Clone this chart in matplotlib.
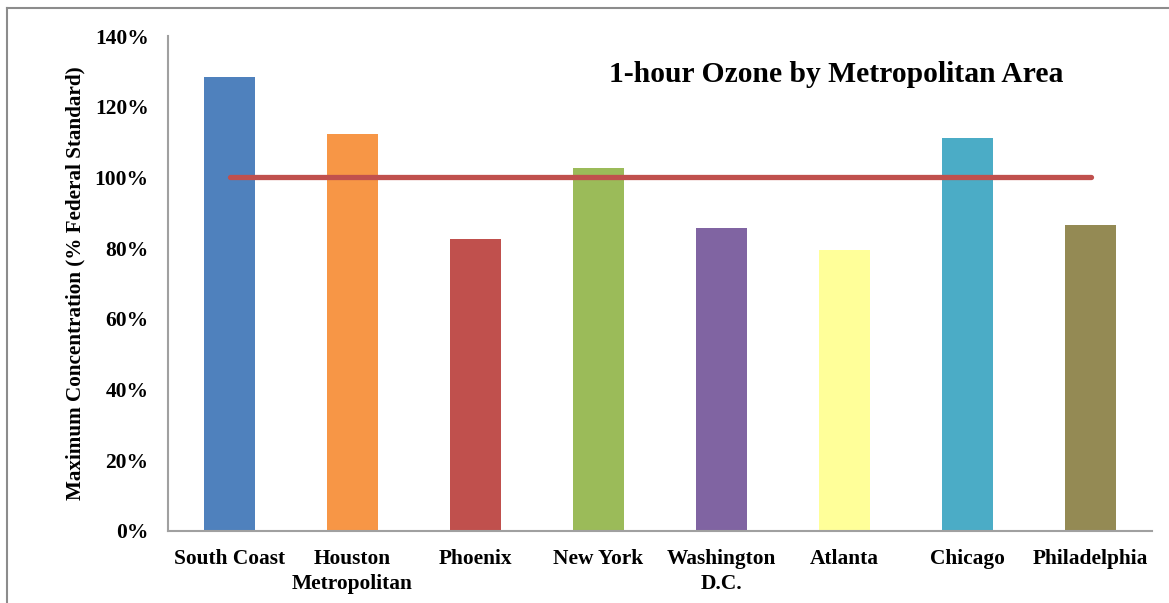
import matplotlib
matplotlib.use("Agg")
import matplotlib.pyplot as plt
from matplotlib.lines import Line2D
from matplotlib.ticker import FuncFormatter

categories = ["South Coast", "Houston\nMetropolitan", "Phoenix", "New York",
              "Washington\nD.C.", "Atlanta", "Chicago", "Philadelphia"]
values = [128.3, 112.2, 82.5, 102.6, 85.6, 79.5, 111.2, 86.5]
standard = [100] * len(categories)
colors = ["#4F81BD", "#F79646", "#C0504D", "#9BBB59", "#8064A2",
          "#FFFF99", "#4BACC6", "#948A54"]
yticks = [0, 20, 40, 60, 80, 100, 120, 140]

plt.rcParams["font.family"] = ["Liberation Serif", "DejaVu Serif"]
plt.rcParams["font.weight"] = "bold"

W, H = 1169, 603
fig = plt.figure(figsize=(W / 100, H / 100), dpi=100)
ax = fig.add_axes([168 / W, 1 - 531 / H, (1152 - 168) / W, (531 - 36) / H])

x = list(range(len(categories)))
ax.bar(x, values, width=0.41, color=colors, zorder=2)
ax.plot(x, standard, color="#C0504D", linewidth=3.8, solid_capstyle="round", zorder=3)

ax.set_xlim(-0.5, len(categories) - 0.5)
ax.set_ylim(0, 140)
ax.set_yticks(yticks)
ax.yaxis.set_major_formatter(FuncFormatter(lambda v, p: f"{v:.0f}%"))
ax.set_xticks(x)
ax.set_xticklabels(categories, fontsize=15.4, fontweight="bold", linespacing=1.3)
for lbl in ax.get_yticklabels():
    lbl.set_fontsize(15.5)
    lbl.set_fontweight("bold")
ax.tick_params(axis="both", length=0)
ax.tick_params(axis="y", pad=14)
ax.tick_params(axis="x", pad=13)

for s in ["top", "right"]:
    ax.spines[s].set_visible(False)
for s in ["left", "bottom"]:
    ax.spines[s].set_color("#A0A0A0")
    ax.spines[s].set_linewidth(1.5)

ax.set_ylabel("Maximum Concentration (% Federal Standard)", fontsize=15.2,
              fontweight="bold")
ax.yaxis.set_label_coords(-(168 - 85) / (1152 - 168), 0.5)

fig.text(836 / W, 1 - 75 / H, "1-hour Ozone by Metropolitan Area", fontsize=21.3,
         fontweight="bold", ha="center", va="center")

# chart-area border (left and top visible)
fig.add_artist(Line2D([6.5 / W, 6.5 / W], [0, 1 - 7.5 / H], transform=fig.transFigure,
                      color="#8C8C8C", linewidth=1.5))
fig.add_artist(Line2D([6.5 / W, 1], [1 - 7.5 / H, 1 - 7.5 / H], transform=fig.transFigure,
                      color="#8C8C8C", linewidth=1.5))

fig.savefig("out.png", dpi=100)
